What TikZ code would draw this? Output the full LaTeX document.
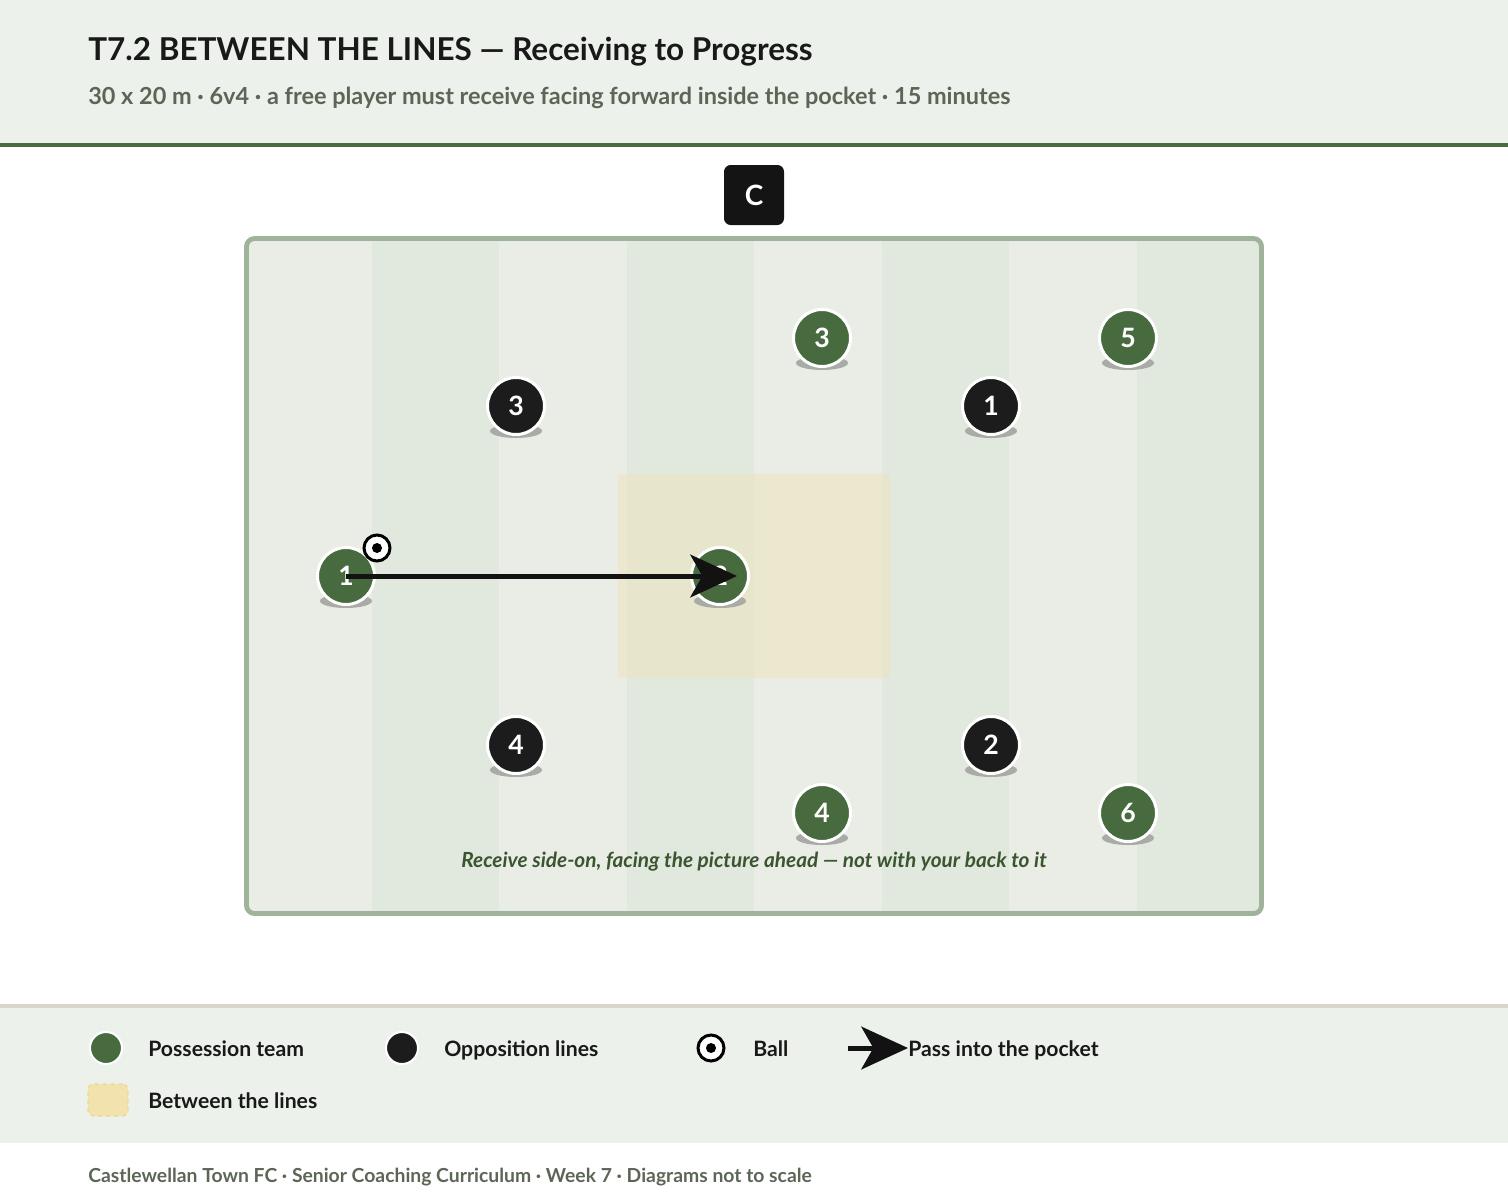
\documentclass[tikz,border=0pt]{standalone}
\usepackage{fontspec}
\setmainfont{Lato}
\usepackage{xcolor}
\usetikzlibrary{arrows.meta,positioning,calc}
\definecolor{headbg}{HTML}{EDF1EC}
\definecolor{rulegreen}{HTML}{4A6B3F}
\definecolor{teamgreen}{HTML}{476B3F}
\definecolor{oppblack}{HTML}{1C1C1C}
\definecolor{pitchline}{HTML}{9FB39A}
\definecolor{stripelight}{HTML}{EAEDE6}
\definecolor{stripedark}{HTML}{E1E8DE}
\definecolor{pocketfill}{HTML}{EFE3B4}
\definecolor{subgrey}{HTML}{5B6657}
\definecolor{captiongreen}{HTML}{3A5530}
\definecolor{footline}{HTML}{D9D5CB}
\definecolor{swatchfill}{HTML}{F2E3AE}
\definecolor{swatchline}{HTML}{EDD890}
\definecolor{shadowgrey}{HTML}{A9ABA6}
\tikzset{
  titletext/.style={anchor=base west,inner sep=0pt,font=\bfseries\fontsize{23.6}{28}\selectfont,text=black!90},
  subtext/.style={anchor=base west,inner sep=0pt,font=\bfseries\fontsize{17.6}{21}\selectfont,text=subgrey},
  coachbox/.style={fill=black!92,rounded corners=5pt,minimum size=45pt,inner sep=0pt,text=white,font=\bfseries\fontsize{21}{21}\selectfont},
  pocket/.style={fill=pocketfill,fill opacity=0.45,rounded corners=1.5pt,minimum width=204pt,minimum height=153pt,inner sep=0pt},
  possession/.style={circle,draw=white,line width=2.25pt,fill=teamgreen,minimum size=42.75pt,inner sep=0pt,text=white,font=\bfseries\fontsize{20}{20}\selectfont},
  opposition/.style={possession,fill=oppblack},
  shadow/.style={fill=shadowgrey},
  ball/.style={circle,draw=black,fill=white,line width=2.25pt,minimum size=19.5pt,inner sep=0pt,path picture={\fill[black] (path picture bounding box.center) circle (3.75pt);}},
  pass/.style={-{Stealth[length=35pt,width=32pt,inset=9pt]},line width=3.75pt,draw=black!93},
  captiontext/.style={anchor=base,inner sep=0pt,font=\bfseries\itshape\fontsize{15.6}{18}\selectfont,text=captiongreen},
  keydot/.style={minimum size=24pt,line width=1.5pt},
  swatch/.style={fill=swatchfill,draw=swatchline,dashed,line width=1pt,rounded corners=4pt,minimum width=30pt,minimum height=24pt,inner sep=0pt},
  legendtext/.style={anchor=base west,inner sep=0pt,font=\bfseries\fontsize{15.9}{19}\selectfont,text=black!90},
  footertext/.style={anchor=base west,inner sep=0pt,font=\bfseries\fontsize{14.5}{17}\selectfont,text=subgrey}
}

\begin{document}
\begin{tikzpicture}[x=0.75pt,y=-0.75pt]
  \useasboundingbox (0,0) rectangle (1508,1200);

  % header
  \fill[headbg] (0,0) rectangle (1508,143);
  \fill[rulegreen] (0,143) rectangle (1508,147);
  \node (title) [titletext] at (88,60) {T7.2 BETWEEN THE LINES — Receiving to Progress};
  \node (subtitle) [subtext] at (88,104) {30 x 20 m · 6v4 · a free player must receive facing forward inside the pocket · 15 minutes};

  \node (coach) [coachbox] at (754,195) {C};

  % pitch with stripes
  \begin{scope}
    \clip[rounded corners=6pt] (246.5,238.5) rectangle (1261.5,913.5);
    \fill[stripelight] (246,238) rectangle (1262,914);
    \fill[stripedark] (372,238) rectangle (499,914);
    \fill[stripedark] (627,238) rectangle (754,914);
    \fill[stripedark] (882,238) rectangle (1009,914);
    \fill[stripedark] (1137,238) rectangle (1262,914);
  \end{scope}
  \draw[pitchline,line width=3.6pt,rounded corners=6pt] (246.5,238.5) rectangle (1261.5,913.5);

  \node (pocket) [pocket] at (754,576) {};

  % shadows
  \fill[shadow] (346,601) ellipse [x radius=19.5pt,y radius=5.25pt];
  \fill[shadow] (720,601) ellipse [x radius=19.5pt,y radius=5.25pt];
  \fill[shadow] (822,363) ellipse [x radius=19.5pt,y radius=5.25pt];
  \fill[shadow] (822,838) ellipse [x radius=19.5pt,y radius=5.25pt];
  \fill[shadow] (1128,363) ellipse [x radius=19.5pt,y radius=5.25pt];
  \fill[shadow] (1128,838) ellipse [x radius=19.5pt,y radius=5.25pt];
  \fill[shadow] (516,431) ellipse [x radius=19.5pt,y radius=5.25pt];
  \fill[shadow] (991,431) ellipse [x radius=19.5pt,y radius=5.25pt];
  \fill[shadow] (516,770) ellipse [x radius=19.5pt,y radius=5.25pt];
  \fill[shadow] (991,770) ellipse [x radius=19.5pt,y radius=5.25pt];

  % possession team
  \node (pos1) [possession] at (346,576) {1};
  \node (pos2) [possession] at (720,576) {2};
  \node (pos3) [possession] at (822,338) {3};
  \node (pos4) [possession] at (822,813) {4};
  \node (pos5) [possession] at (1128,338) {5};
  \node (pos6) [possession] at (1128,813) {6};

  % opposition lines
  \node (opp3) [opposition] at (516,406) {3};
  \node (opp1) [opposition] at (991,406) {1};
  \node (opp4) [opposition] at (516,745) {4};
  \node (opp2) [opposition] at (991,745) {2};

  \node (ball) [ball] at (377,548) {};
  \draw[pass,shorten >=-12.75pt] (pos1.center) -- (pos2.center);

  \node (caption) [captiontext] at (754,867) {Receive side-on, facing the picture ahead — not with your back to it};

  % legend
  \fill[headbg] (0,1004) rectangle (1508,1143);
  \fill[footline] (0,1004) rectangle (1508,1008);

  \node (keyteam) [possession,keydot] at (106,1048) {};
  \node (keyteamtxt) [legendtext] at (148,1056) {Possession team};
  \node (keyopp) [opposition,keydot] at (402,1048) {};
  \node (keyopptxt) [legendtext] at (444,1056) {Opposition lines};
  \node (keyball) [ball] at (711,1048) {};
  \node (keyballtxt) [legendtext] at (753,1056) {Ball};
  \coordinate (keypassstart) at (848,1048);
  \coordinate (keypassend) at (908,1048);
  \draw[pass] (keypassstart) -- (keypassend);
  \node (keypasstxt) [legendtext] at (908,1056) {Pass into the pocket};
  \node (keypocket) [swatch] at (108,1100) {};
  \node (keypockettxt) [legendtext] at (148,1108) {Between the lines};

  \node (footer) [footertext] at (88,1182) {Castlewellan Town FC · Senior Coaching Curriculum · Week 7 · Diagrams not to scale};
\end{tikzpicture}
\end{document}
